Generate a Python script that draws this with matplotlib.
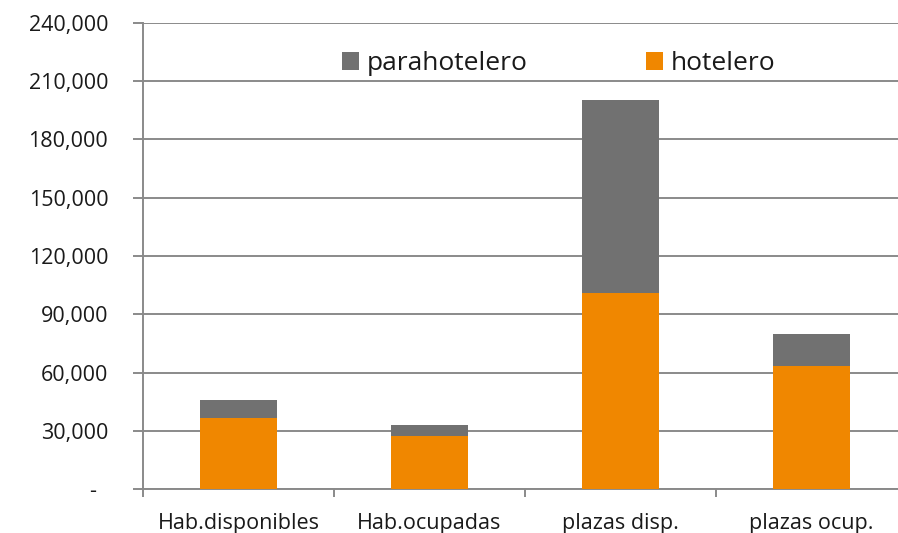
import matplotlib.pyplot as plt
from matplotlib.ticker import FixedLocator, FixedFormatter

# Data
categories = ["Hab.disponibles", "Hab.ocupadas", "plazas disp.", "plazas ocup."]
hotelero = [36700, 27500, 100900, 63500]
parahotelero = [9200, 5500, 99200, 16400]
y_ticks = [0, 30000, 60000, 90000, 120000, 150000, 180000, 210000, 240000]
y_labels = ["-  ", "30,000", "60,000", "90,000", "120,000", "150,000",
            "180,000", "210,000", "240,000"]

ORANGE = "#F08700"
GRAY = "#717171"
LINE = "#8a8a8a"

plt.rcParams['font.family'] = ['Open Sans', 'DejaVu Sans']

fig = plt.figure(figsize=(8.98, 5.33), dpi=100)
# axes spans x 143..907 px, y 23..489 px
ax = fig.add_axes([143 / 898, 1 - 489 / 533, 764 / 898, 466 / 533])

x = list(range(len(categories)))
ax.bar(x, hotelero, width=0.4, color=ORANGE, label="hotelero", zorder=3)
ax.bar(x, parahotelero, width=0.4, bottom=hotelero, color=GRAY,
       label="parahotelero", zorder=3)

ax.set_xlim(-0.5, 3.5)
ax.set_ylim(0, 240000)

ax.yaxis.set_major_locator(FixedLocator(y_ticks))
ax.yaxis.set_major_formatter(FixedFormatter(y_labels))
ax.grid(axis='y', color=LINE, linewidth=1.4, zorder=0)

ax.set_xticks(x)
ax.set_xticklabels(categories, fontsize=15.5, color="#1a1a1a")
ax.set_xticks([-0.5, 0.5, 1.5, 2.5, 3.5], minor=True)
ax.tick_params(axis='x', which='major', length=0, pad=17.5)
ax.tick_params(axis='x', which='minor', length=6, width=1.4, color=LINE)
ax.tick_params(axis='y', length=7, width=1.4, color=LINE, pad=18,
               labelsize=15.5, labelcolor="#1a1a1a")

for side in ['top', 'right']:
    ax.spines[side].set_visible(False)
for side in ['left', 'bottom']:
    ax.spines[side].set_color(LINE)
    ax.spines[side].set_linewidth(1.4)

handles, labels = ax.get_legend_handles_labels()
leg = ax.legend(handles[::-1], labels[::-1], ncol=2, loc='upper left',
                bbox_to_anchor=(0.229, 0.99), frameon=False,
                fontsize=19, handlelength=0.64, handleheight=0.64,
                handletextpad=0.3, columnspacing=4.5)
for t in leg.get_texts():
    t.set_color("#1a1a1a")

fig.savefig("out.png", dpi=100)
